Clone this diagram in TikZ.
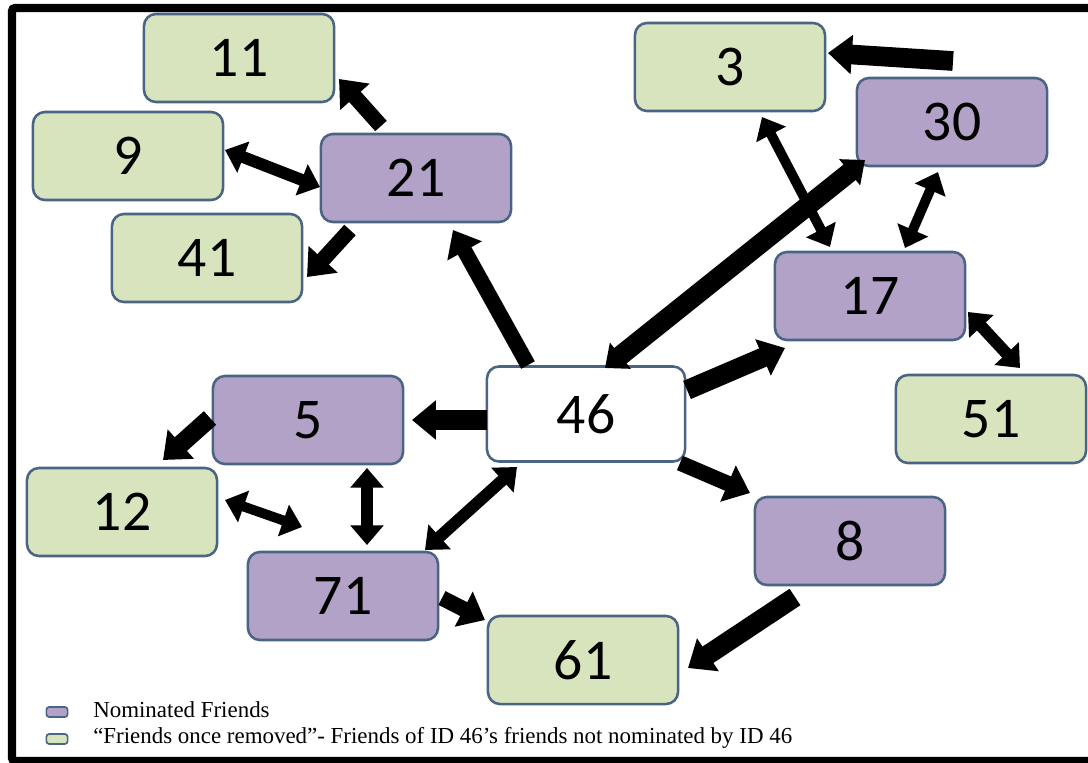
\documentclass[tikz,border=0pt]{standalone}
\usepackage{fontspec}
\setmainfont{Carlito}
\newfontfamily\legendfont{Liberation Serif}
\usetikzlibrary{arrows.meta}
\definecolor{nomcol}{HTML}{B3A2C7}
\definecolor{remcol}{HTML}{D7E4BD}
\definecolor{edgecol}{HTML}{4A6484}
\tikzstyle{box}=[draw=edgecol, line width=1.8pt, rounded corners=0.3cm, minimum width=4.75cm, minimum height=2.2cm, inner sep=0pt, font=\fontsize{41}{41}\selectfont]
\tikzstyle{nom}=[box, fill=nomcol]
\tikzstyle{rem}=[box, fill=remcol]
\tikzstyle{arr}=[line width=11pt, -{Triangle[length=17pt,width=27pt]}]
\tikzstyle{dbl}=[line width=8.5pt, {Triangle[length=14pt,width=23pt]}-{Triangle[length=14pt,width=23pt]}]
\tikzstyle{key}=[draw=edgecol, line width=1.2pt, rounded corners=2pt, minimum width=0.53cm, minimum height=0.25cm, inner sep=0pt]
\tikzstyle{keytext}=[anchor=west, inner sep=0pt, font=\legendfont\fontsize{16.3}{16.3}\selectfont]

\begin{document}
\begin{tikzpicture}[x=0.025cm,y=-0.025cm]
\clip (0,0) rectangle (1088,763);
%\draw[help lines,step=50] (0,0) grid (1088,763);
\draw [line width=5.7pt, rounded corners=2pt] (1100,8) -- (12,8) -- (12,761) -- (1100,761);
% friends of friends
\foreach \n/\x/\y in {11/239/58, 9/128/156, 41/207/258, 3/730/67, 51/991/419, 12/122/512, 61/583/660}
\node [rem] (n\n) at (\x,\y) {\n};
% nominated friends
\foreach \n/\x/\y in {21/416/178, 30/952/122, 17/870/296, 5/308/420, 71/343/596, 8/850/541}
\node [nom] (n\n) at (\x,\y) {\n};
\node [box, fill=white, minimum width=4.95cm, minimum height=2.375cm] (n46) at (586,414) {46};
% ties
\draw [arr] ([shift={(-35,-52)}]n21.center) -- ([shift={(100,21)}]n11.center);
\draw [dbl] ([shift={(97,-6)}]n9.center) -- ([shift={(-96,9)}]n21.center);
\draw [arr] ([shift={(-66,52)}]n21.center) -- ([shift={(100,19)}]n41.center);
\draw [arr] ([shift={(-58,-49)}]n46.center) -- ([shift={(37,52)}]n21.center);
\draw [dbl, line width=14pt] ([shift={(19,-46)}]n46.center) -- ([shift={(-87,38)}]n30.center);
\draw [dbl, line width=7pt] ([shift={(32,50)}]n3.center) -- ([shift={(-40,-49)}]n17.center);
\draw [dbl, line width=7pt] ([shift={(-14,50)}]n30.center) -- ([shift={(35,-48)}]n17.center);
\draw [arr, line width=14pt] ([shift={(1,-61)}]n30.center) -- ([shift={(98,-14)}]n3.center);
\draw [dbl] ([shift={(98,16)}]n17.center) -- ([shift={(29,-51)}]n51.center);
\draw [arr, line width=14pt] ([shift={(101,-24)}]n46.center) -- ([shift={(-85,52)}]n17.center);
\draw [arr] ([shift={(94,49)}]n46.center) -- ([shift={(-100,-48)}]n8.center);
\draw [arr, line width=14pt] ([shift={(-99,6)}]n46.center) -- ([shift={(104,0)}]n5.center);
\draw [arr, line width=13pt] ([shift={(-98,-2)}]n5.center) -- ([shift={(41,-52)}]n12.center);
\draw [dbl, line width=7pt] ([shift={(103,-12)}]n12.center) -- ([shift={(-41,-69)}]n71.center);
\draw [dbl] ([shift={(59,48)}]n5.center) -- ([shift={(24,-51)}]n71.center);
\draw [dbl] ([shift={(-69,53)}]n46.center) -- ([shift={(82,-46)}]n71.center);
\draw [arr] ([shift={(99,2)}]n71.center) -- ([shift={(-98,-40)}]n61.center);
\draw [arr, line width=14pt] ([shift={(-55,56)}]n8.center) -- ([shift={(105,8)}]n61.center);
% legend
\node [key, fill=nomcol] (keynom) at (57,712) {};
\node [key, fill=remcol] (keyrem) at (57,739) {};
\node [keytext] (txtnom) at (93,710) {Nominated Friends};
\node [keytext] (txtrem) at (93,738) {“Friends once removed”- Friends of ID 46’s friends not nominated by ID 46};
\end{tikzpicture}
\end{document}
